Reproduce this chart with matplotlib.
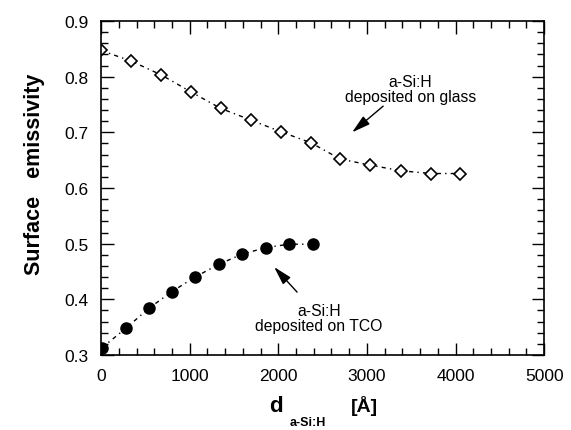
import matplotlib
matplotlib.use('Agg')
import matplotlib.pyplot as plt
from matplotlib.ticker import MultipleLocator

plt.rcParams.update({
    'font.family': ['Liberation Sans', 'DejaVu Sans'],
    'font.size': 12.5,
})

# a-Si:H on glass (open diamonds)
glass_d = [0, 340, 680, 1010, 1350, 1690, 2030, 2370, 2700, 3040, 3380, 3720, 4050]
glass_eps = [0.847, 0.828, 0.803, 0.773, 0.743, 0.722, 0.701, 0.681, 0.652,
             0.641, 0.631, 0.626, 0.626]

# a-Si:H on TCO (filled circles)
tco_d = [10, 280, 540, 800, 1060, 1330, 1590, 1860, 2120, 2390]
tco_eps = [0.313, 0.348, 0.384, 0.414, 0.440, 0.463, 0.481, 0.493, 0.499, 0.499]

fig = plt.figure(figsize=(5.71, 4.31), dpi=100)
ax = fig.add_axes([0.177, 0.174, 0.776, 0.775])

ax.plot(glass_d, glass_eps, color='black', lw=1.0, ls=(0, (3, 3, 1, 3)),
        marker='D', ms=6.5, mfc='white', mec='black', mew=1.2)
ax.plot(tco_d, tco_eps, color='black', lw=1.0, ls=(0, (3, 3, 1, 3)),
        marker='o', ms=8, mfc='black', mec='black')

ax.set_xlim(0, 5000)
ax.set_ylim(0.3, 0.9)
ax.xaxis.set_major_locator(MultipleLocator(1000))
ax.xaxis.set_minor_locator(MultipleLocator(200))
ax.yaxis.set_major_locator(MultipleLocator(0.1))
ax.yaxis.set_minor_locator(MultipleLocator(0.02))
ax.tick_params(which='both', direction='in', top=True, right=True, width=1.0)
ax.tick_params(which='major', length=9)
ax.tick_params(which='minor', length=5)
ax.tick_params(axis='x', which='major', pad=9)
ax.tick_params(axis='y', which='major', pad=9)
ax.set_yticks([0.3, 0.4, 0.5, 0.6, 0.7, 0.8, 0.9])
ax.set_yticklabels(['0.3', '0.4', '0.5', '0.6', '0.7', '0.8', '0.9'])
for s in ax.spines.values():
    s.set_linewidth(1.2)

arrow = dict(arrowstyle='-|>,head_length=0.9,head_width=0.25', color='black',
             lw=1.0, shrinkA=0, shrinkB=0)
ax.annotate('', xy=(2833, 0.700), xytext=(3183, 0.747), arrowprops=arrow)
ax.text(3488, 0.777, 'a-Si:H\ndeposited on glass', ha='center', va='center',
        fontsize=11.3, linespacing=1.0)
ax.annotate('', xy=(1953, 0.458), xytext=(2212, 0.413), arrowprops=arrow)
ax.text(2460, 0.366, 'a-Si:H\ndeposited on TCO', ha='center', va='center',
        fontsize=11.3, linespacing=1.0)

fig.text(35 / 571, 1 - 174 / 431, 'Surface   emissivity', rotation=90,
         ha='center', va='center', fontsize=15.5, fontweight='bold')

fig.text(276 / 571, 1 - 407 / 431, 'd', ha='center', va='center',
         fontsize=16, fontweight='bold')
fig.text(308 / 571, 1 - 423 / 431, 'a-Si:H', ha='center', va='center',
         fontsize=9, fontweight='bold')
fig.text(364 / 571, 1 - 406 / 431, '[Å]', ha='center', va='center',
         fontsize=14, fontweight='bold')

fig.savefig('out.png', dpi=100)
